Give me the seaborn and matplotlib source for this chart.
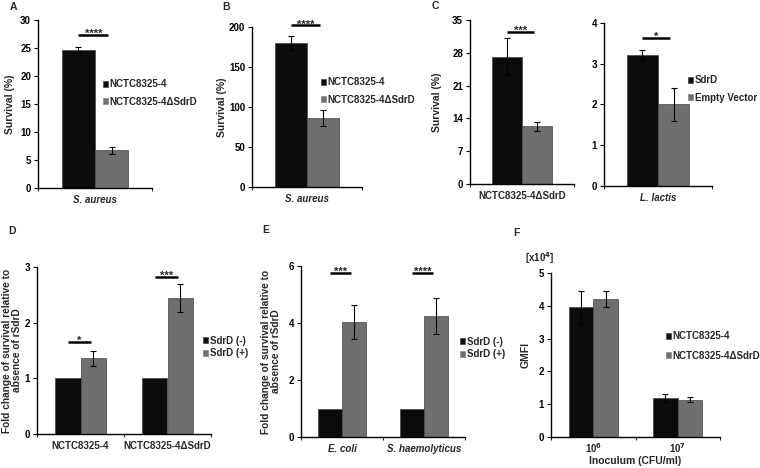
import numpy as np
import pandas as pd
import seaborn as sns
import matplotlib.pyplot as plt
from matplotlib.patches import Patch
from matplotlib.container import BarContainer

# ---- data ----
strains = ['NCTC8325-4', 'NCTC8325-4ΔSdrD']

# A: S. aureus survival (%)
a_cats = ['S. aureus']
a_vals = [[24.6], [6.7]]
a_errs = [[0.5], [0.7]]

# B: S. aureus survival (%)
b_cats = ['S. aureus']
b_vals = [[180], [86]]
b_errs = [[9], [10]]

# C left: NCTC8325-4ΔSdrD survival (%)
c1_cats = ['NCTC8325-4ΔSdrD']
c1_groups = ['SdrD', 'Empty Vector']
c1_vals = [[27.2], [12.3]]
c1_errs = [[3.9], [1.0]]

# C right: L. lactis survival (%)
c2_cats = ['L. lactis']
c2_groups = ['SdrD', 'Empty Vector']
c2_vals = [[3.22], [2.0]]
c2_errs = [[0.12], [0.4]]

# D / E: fold change relative to absence of rSdrD
rsdrd = ['SdrD (-)', 'SdrD (+)']
d_cats = ['NCTC8325-4', 'NCTC8325-4ΔSdrD']
d_vals = [[1.0, 1.0], [1.36, 2.45]]
d_errs = [[0, 0], [0.14, 0.25]]

e_cats = ['E. coli', 'S. haemolyticus']
e_vals = [[1.0, 1.0], [4.03, 4.23]]
e_errs = [[0, 0], [0.6, 0.63]]

# F: GMFI (x10^4) by inoculum
f_cats = ['10$^6$', '10$^7$']
f_vals = [[3.95, 1.18], [4.2, 1.14]]
f_errs = [[0.5, 0.12], [0.25, 0.07]]

BLACK = '#0c0c0c'
GREY = '#6f6f6f'

sns.set_style('ticks')
plt.rcParams['font.family'] = ['Liberation Sans', 'DejaVu Sans']
plt.rcParams['font.weight'] = 'bold'
plt.rcParams['axes.labelweight'] = 'bold'

W, H = 760, 468
fig = plt.figure(figsize=(W / 100, H / 100), dpi=100)


def px_axes(l, r, top, bot):
    return fig.add_axes([l / W, 1 - bot / H, (r - l) / W, (bot - top) / H])


def bars_of(ax):
    return [c for c in ax.containers if isinstance(c, BarContainer)]


def draw(ax, cats, groups, vals, errs, ymax, step):
    rows = [(c, g, vals[j][i]) for j, g in enumerate(groups) for i, c in enumerate(cats)]
    df = pd.DataFrame(rows, columns=['cat', 'grp', 'val'])
    sns.barplot(data=df, x='cat', y='val', hue='grp', order=cats, hue_order=groups,
                palette=[BLACK, GREY], saturation=1, width=0.58, errorbar=None,
                legend=False, edgecolor='#444444', linewidth=0.5, ax=ax)
    for j, cont in enumerate(bars_of(ax)):
        for i, bar in enumerate(cont):
            if errs[j][i] > 0:
                ax.errorbar(bar.get_x() + bar.get_width() / 2, bar.get_height(), yerr=errs[j][i],
                            color='black', lw=0.8, capsize=2.5, capthick=0.8)
    ax.set_xlim(-0.5, len(cats) - 0.5)
    ax.set_ylim(0, ymax)
    ax.set_yticks(np.arange(0, ymax + step / 2, step))
    ax.set_xlabel('')
    ax.set_ylabel('')
    sns.despine(ax=ax)
    for s in ['left', 'bottom']:
        ax.spines[s].set_linewidth(1.0)
        ax.spines[s].set_color('black')
    ax.tick_params(axis='y', length=3, width=0.8, labelsize=7, pad=2, colors='black')
    ax.tick_params(axis='x', which='major', length=0, labelsize=7, pad=5)
    ax.set_xticks(np.arange(len(cats) + 1) - 0.5, minor=True)
    ax.tick_params(axis='x', which='minor', length=2.5, width=0.8)
    for t in ax.get_yticklabels() + ax.get_xticklabels():
        t.set_fontweight('bold')


def centers(ax, i):
    return [cont[i].get_x() + cont[i].get_width() / 2 for cont in bars_of(ax)]


def signif(ax, i, y, stars):
    x0, x1 = centers(ax, i)
    x1 -= 0.03
    ax.plot([x0, x1], [y, y], color='black', lw=1.8, clip_on=False, solid_capstyle='butt')
    ax.annotate(stars, xy=((x0 + x1) / 2, y), xytext=(0, -1.5), textcoords='offset points',
                ha='center', va='baseline', fontsize=8, fontweight='bold', annotation_clip=False)


def legend(labels, x, y, spacing):
    handles = [Patch(facecolor=BLACK, edgecolor='#444444', lw=0.5),
               Patch(facecolor=GREY, edgecolor='#888888', lw=0.5)]
    fig.legend(handles, labels, loc='center left', bbox_to_anchor=(x / W, 1 - y / H),
               frameon=False, handlelength=0.55, handleheight=0.55,
               handletextpad=0.15, labelspacing=spacing, borderpad=0, borderaxespad=0,
               prop={'weight': 'bold', 'size': 7})


def italic_x(ax):
    for t in ax.get_xticklabels():
        t.set_fontstyle('italic')


FOLD = 'Fold change of survival relative to\nabsence of rSdrD'

# ---- A ----
ax = px_axes(38, 152, 20, 188)
draw(ax, a_cats, strains, a_vals, a_errs, 30, 5)
italic_x(ax)
ax.set_ylabel('Survival (%)', fontsize=7.5)
ax.yaxis.set_label_coords(-0.2, 0.5)
signif(ax, 0, 27.3, '****')
legend(strains, 103, 93, 0.75)

# ---- B ----
ax = px_axes(252, 362, 27, 187)
draw(ax, b_cats, strains, b_vals, b_errs, 200, 50)
italic_x(ax)
ax.set_ylabel('Survival (%)', fontsize=7.5)
ax.yaxis.set_label_coords(-0.23, 0.5)
signif(ax, 0, 202, '****')
legend(strains, 321, 91, 0.75)

# ---- C ----
ax = px_axes(470, 574, 20, 184)
draw(ax, c1_cats, c1_groups, c1_vals, c1_errs, 35, 7)
ax.set_ylabel('Survival (%)', fontsize=7.5)
ax.yaxis.set_label_coords(-0.27, 0.5)
signif(ax, 0, 32.4, '***')

ax = px_axes(604, 712, 23, 186)
draw(ax, c2_cats, c2_groups, c2_vals, c2_errs, 4, 1)
italic_x(ax)
signif(ax, 0, 3.63, '*')
legend(c2_groups, 688, 89, 0.75)

# ---- D ----
ax = px_axes(37, 211, 267, 434)
draw(ax, d_cats, rsdrd, d_vals, d_errs, 3, 1)
ax.set_ylabel(FOLD, fontsize=7.3, linespacing=1.0)
ax.yaxis.set_label_coords(-0.085, 0.5)
signif(ax, 0, 1.65, '*')
signif(ax, 1, 2.82, '***')
legend(rsdrd, 203, 347, 0.3)

# ---- E ----
ax = px_axes(301, 465, 266, 437)
draw(ax, e_cats, rsdrd, e_vals, e_errs, 6, 2)
italic_x(ax)
ax.set_ylabel(FOLD, fontsize=7.3, linespacing=1.0)
ax.yaxis.set_label_coords(-0.12, 0.5)
signif(ax, 0, 5.75, '***')
signif(ax, 1, 5.75, '****')
legend(rsdrd, 460, 348, 0.3)

# ---- F ----
ax = px_axes(551, 720, 273, 437)
draw(ax, f_cats, strains, f_vals, f_errs, 5, 1)
ax.tick_params(axis='x', which='major', pad=3)
ax.set_ylabel('GMFI', fontsize=7.5)
ax.yaxis.set_label_coords(-0.12, 0.5)
ax.set_xlabel('Inoculum (CFU/ml)', fontsize=7.5, labelpad=0.5)
legend(strains, 666, 346, 0.95)
fig.text(525 / W, 1 - 258 / H, '[x10$^4$]', fontsize=7, fontweight='bold', va='center')

# panel letters
for letter, x, y in [('A', 10, 7), ('B', 222, 7), ('C', 432, 6),
                     ('D', 8, 231), ('E', 262, 230), ('F', 513, 233)]:
    fig.text(x / W, 1 - y / H, letter, fontsize=7.5, fontweight='bold', va='center')

fig.savefig('out.png', dpi=100)
